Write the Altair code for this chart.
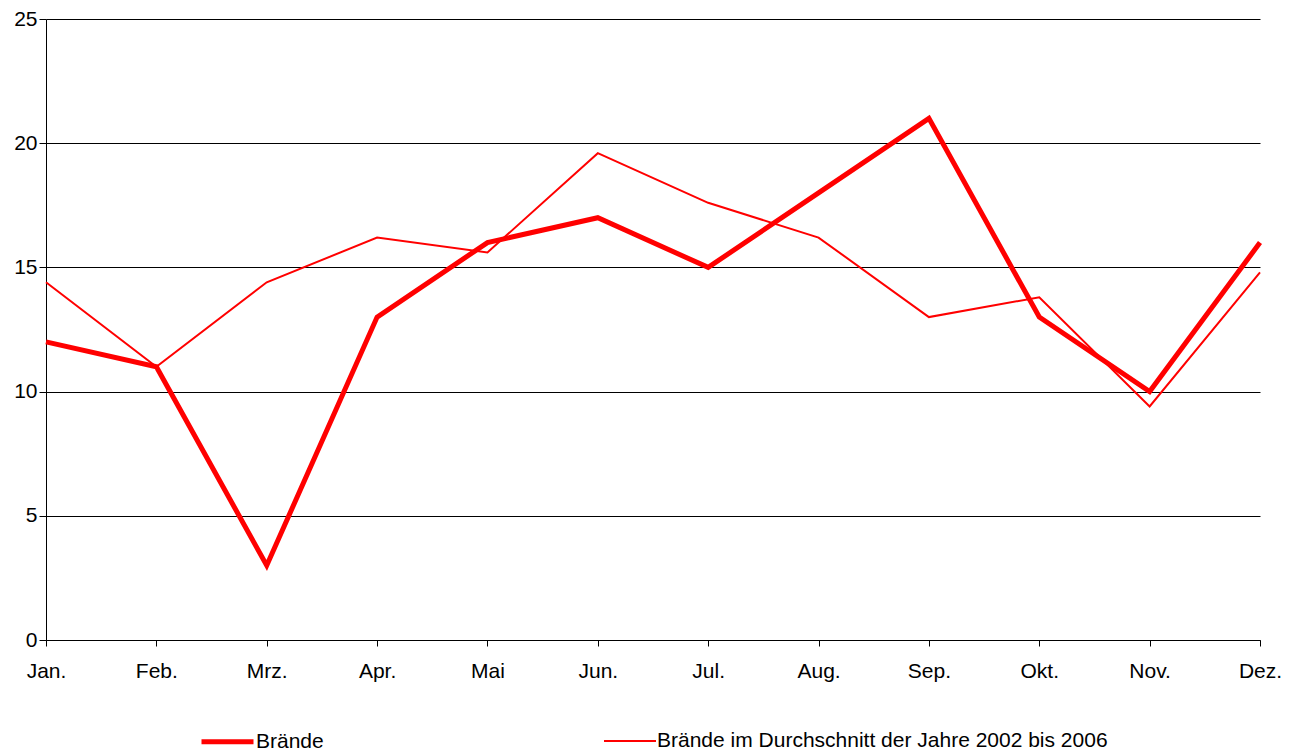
import altair as alt
import pandas as pd

months = ["Jan.", "Feb.", "Mrz.", "Apr.", "Mai", "Jun.", "Jul.", "Aug.", "Sep.", "Okt.", "Nov.", "Dez."]
braende = [12, 11, 3, 13, 16, 17, 15, 18, 21, 13, 10, 16]
durchschnitt = [14.4, 11.0, 14.4, 16.2, 15.6, 19.6, 17.6, 16.2, 13.0, 13.8, 9.4, 14.8]
series_names = ["Brände", "Brände im Durchschnitt der Jahre 2002 bis 2006"]

rows = []
for m, v in zip(months, braende):
    rows.append({"Monat": m, "Wert": v, "Serie": series_names[0]})
for m, v in zip(months, durchschnitt):
    rows.append({"Monat": m, "Wert": v, "Serie": series_names[1]})
df = pd.DataFrame(rows)

FONT = "Liberation Sans"
FS = 21

legend_cfg = dict(title=None, orient="none", direction="horizontal",
                  legendX=153, legendY=694,
                  symbolType="stroke", symbolSize=2704,
                  labelFontSize=FS, labelFont=FONT, labelColor="black",
                  labelOffset=0, columnPadding=276, labelLimit=1000)

chart = alt.Chart(df).mark_line(strokeJoin="miter").encode(
    x=alt.X("Monat:N", sort=months,
            scale=alt.Scale(type="point", padding=0),
            axis=alt.Axis(title=None, labelAngle=0, grid=False, ticks=True,
                          tickSize=6, tickColor="black", domainColor="black",
                          labelPadding=14, labelFontSize=FS, labelFont=FONT,
                          labelColor="black")),
    y=alt.Y("Wert:Q",
            scale=alt.Scale(domain=[0, 25], nice=False, zero=True),
            axis=alt.Axis(title=None, values=[0, 5, 10, 15, 20, 25], grid=True,
                          gridColor="black", gridWidth=1, gridOpacity=1,
                          tickSize=7, tickColor="black", domainColor="black",
                          labelPadding=2, labelFontSize=FS, labelFont=FONT,
                          labelColor="black")),
    color=alt.Color("Serie:N", sort=series_names,
                    scale=alt.Scale(domain=series_names, range=["#ff0000", "#ff0000"]),
                    legend=alt.Legend(**legend_cfg)),
    strokeWidth=alt.StrokeWidth("Serie:N", sort=series_names,
                                scale=alt.Scale(domain=series_names, range=[5, 2]),
                                legend=alt.Legend(**legend_cfg)),
).properties(
    width=1214, height=621,
    autosize=alt.AutoSizeParams(type="none"),
    padding={"left": 38, "top": 11, "right": 23, "bottom": 111},
).configure_view(stroke=None).configure_axis(domainWidth=1, tickWidth=1)

chart.save("out.html", embed_options={"renderer": "svg", "actions": False})
